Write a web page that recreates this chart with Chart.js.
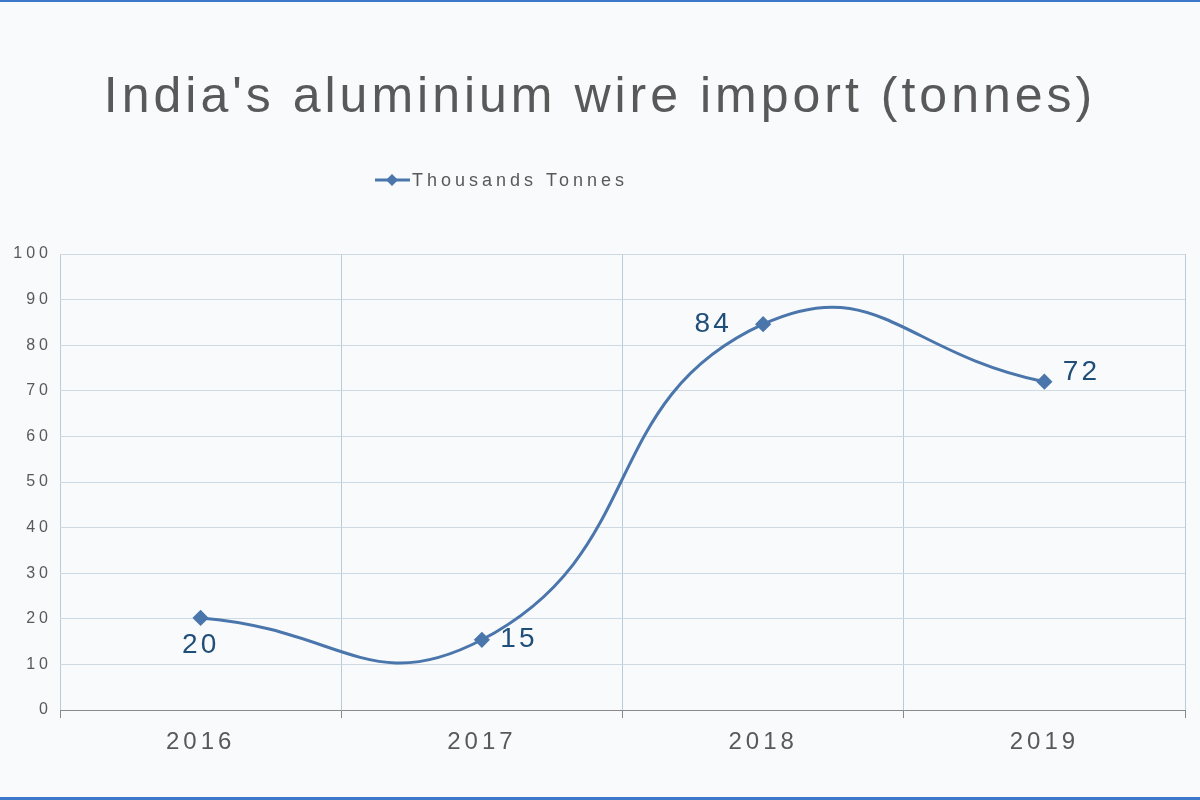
<!DOCTYPE html>
<html><head><meta charset="utf-8">
<script src="https://cdn.jsdelivr.net/npm/chart.js@4"></script>
<style>html,body{margin:0;padding:0;background:#f9fafc}#w{width:1200px;height:800px;position:relative;box-sizing:border-box;border-top:2px solid #3b78c9;border-bottom:3px solid #3b78c9}canvas{display:block}</style>
</head><body><div id="w"><canvas id="c" width="1200" height="795"></canvas></div>
<script>
const categories = ['2016','2017','2018','2019'];
const values = [20.2, 15.4, 84.6, 72.0];
const valueLabels = ['20','15','84','72'];
const seriesName = 'Thousands Tonnes';
const titleText = "India's aluminium wire import (tonnes)";
const lineColor = '#4a76ac';

const deco = {
  id:'deco',
  beforeDraw(chart){const c=chart.ctx;c.letterSpacing='4px';},
  afterDraw(chart){
    const c=chart.ctx;c.save();
    c.letterSpacing='4px';c.fillStyle='#595959';c.textAlign='center';c.textBaseline='middle';
    c.font='50px "Liberation Sans", Arial';c.fillText(titleText,600,96);
    c.strokeStyle=lineColor;c.lineWidth=3;c.beginPath();c.moveTo(375,178);c.lineTo(410,178);c.stroke();
    c.fillStyle=lineColor;c.beginPath();c.moveTo(392,172);c.lineTo(398,178);c.lineTo(392,184);c.lineTo(386,178);c.closePath();c.fill();
    c.fillStyle='#595959';c.textAlign='left';c.font='18px "Liberation Sans", Arial';c.fillText(seriesName,412,179);
    const meta=chart.getDatasetMeta(0);
    const offs=[[0,27],[37,0],[-50,0],[37,-9]];
    c.fillStyle='#1f4e79';c.font='28px "Liberation Sans", Arial';c.textAlign='center';c.letterSpacing='3px';
    meta.data.forEach((p,i)=>c.fillText(valueLabels[i],p.x+offs[i][0],p.y+offs[i][1]));
    c.restore();
  }
};

new Chart(document.getElementById('c'),{
  type:'line',
  data:{labels:categories,datasets:[{label:seriesName,data:values,borderColor:lineColor,backgroundColor:lineColor,borderWidth:3,tension:0.5,pointStyle:'rectRot',pointRadius:6,pointHoverRadius:6}]},
  options:{responsive:false,animation:false,devicePixelRatio:1,
    layout:{padding:{top:252,right:15,left:0,bottom:0}},
    plugins:{legend:{display:false},title:{display:false},tooltip:{enabled:false}},
    scales:{
      x:{offset:true,grid:{offset:true,color:'#b9cdd9',tickLength:8,tickColor:'#8a8a8a'},border:{color:'#8a8a8a'},
         ticks:{color:'#595959',font:{size:24,family:'"Liberation Sans", Arial'},padding:10},
         afterFit(s){s.height=87;}},
      y:{min:0,max:100,grid:{color:'#cdd9e3',drawTicks:false},border:{display:false},
         ticks:{stepSize:10,color:'#595959',font:{size:16,family:'"Liberation Sans", Arial'},padding:8},
         afterFit(s){s.width=60;}}
    }},
  plugins:[deco]
});
</script></body></html>
